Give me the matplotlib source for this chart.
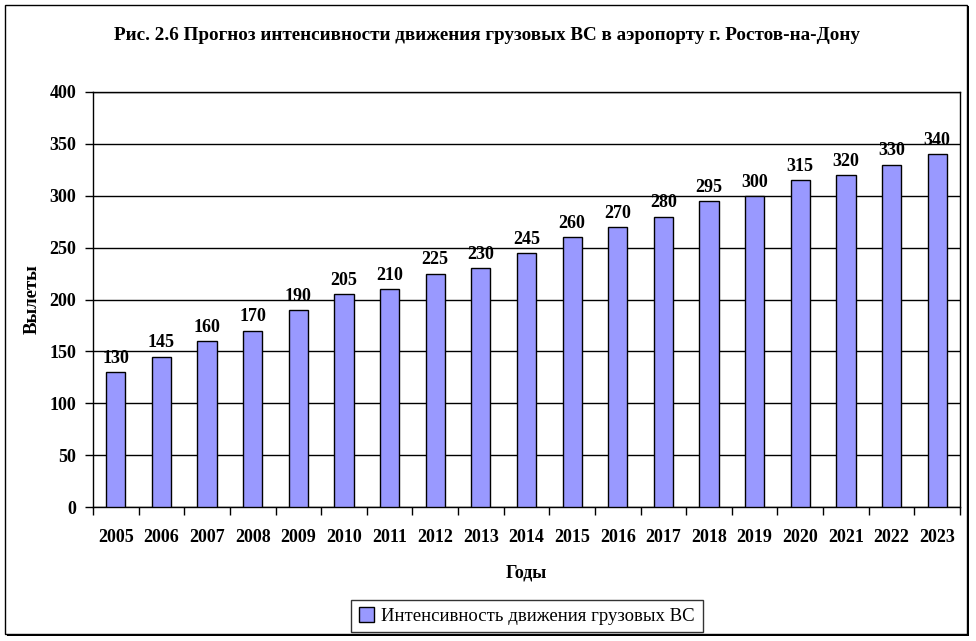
import matplotlib.pyplot as plt
from matplotlib.patches import Rectangle

years = [str(y) for y in range(2005, 2024)]
flights = [130, 145, 160, 170, 190, 205, 210, 225, 230, 245,
           260, 270, 280, 295, 300, 315, 320, 330, 340]

title = "Рис. 2.6 Прогноз интенсивности движения грузовых ВС в аэропорту г. Ростов-на-Дону"
series_name = "Интенсивность движения грузовых ВС"

plt.rcParams['font.family'] = ['Liberation Serif', 'DejaVu Serif']

fig = plt.figure(figsize=(9.76, 6.41), dpi=100)

# outer chart frame with a little shadow, Excel style
fig.patches.append(Rectangle((7 / 976, 5 / 641), 962 / 976, 630 / 641,
                             transform=fig.transFigure, facecolor='black',
                             edgecolor='none', zorder=-2))
fig.patches.append(Rectangle((5 / 976, 7 / 641), 962 / 976, 629 / 641,
                             transform=fig.transFigure, facecolor='white',
                             edgecolor='black', linewidth=1, zorder=-1))

ax = fig.add_axes([93 / 976, 1 - 507 / 641, 867 / 976, 415 / 641])
ax.set_zorder(2)

x = list(range(len(years)))
bars = ax.bar(x, flights, width=0.42, color='#9999ff', edgecolor='black',
              linewidth=1, label=series_name, zorder=3)
for xi, v in zip(x, flights):
    ax.text(xi, v + 5, str(v), ha='center', va='bottom', fontsize=13,
            fontweight='bold', zorder=4)

ax.set_xlim(-0.5, len(years) - 0.5)
ax.set_ylim(0, 400)
ax.set_yticks(range(0, 401, 50))
ax.yaxis.grid(True, color='black', linewidth=1)
ax.set_axisbelow(True)

# categories sit between tick marks
ax.set_xticks([i - 0.5 for i in range(len(years) + 1)])
ax.set_xticklabels([])
ax.set_xticks(x, minor=True)
ax.set_xticklabels(years, minor=True, fontsize=13, fontweight='bold')
ax.tick_params(axis='x', which='major', length=6, width=1, direction='out')
ax.tick_params(axis='x', which='minor', length=0, pad=16)
ax.tick_params(axis='y', length=6, width=1, labelsize=13, pad=6)
for lab in ax.get_yticklabels():
    lab.set_fontweight('bold')
for s in ax.spines.values():
    s.set_linewidth(1)
    s.set_color('black')

ax.set_xlabel("Годы", fontsize=13, fontweight='bold', labelpad=13)
ax.set_ylabel("Вылеты", fontsize=13.5, fontweight='bold', labelpad=6)
fig.text(487 / 976, 1 - 35 / 641, title, ha='center', va='center',
         fontsize=13.8, fontweight='bold')

leg = fig.legend(handles=[bars], labels=[series_name], loc='center',
                 bbox_to_anchor=(527 / 976, 1 - 616 / 641), fontsize=13.5,
                 frameon=True, fancybox=False, edgecolor='black',
                 handlelength=0.8, handleheight=0.8, handletextpad=0.4,
                 borderpad=0.4)
leg.get_frame().set_linewidth(1)

fig.savefig("out.png", dpi=100)
